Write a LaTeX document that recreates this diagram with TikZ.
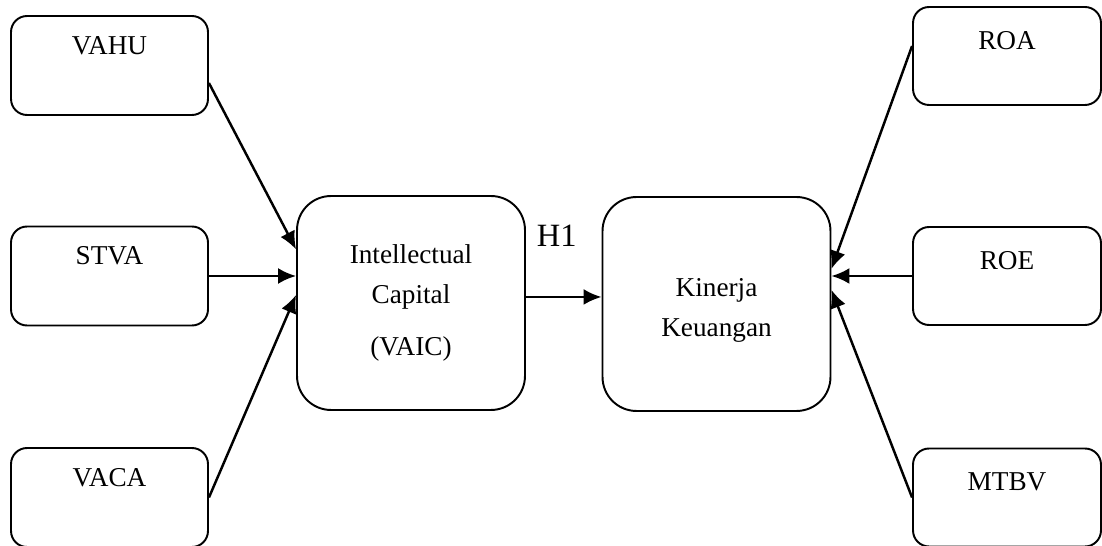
\documentclass[tikz,border=0pt]{standalone}
\usepackage{fontspec}
\setmainfont{Liberation Serif}
\usetikzlibrary{positioning,arrows.meta}

\begin{document}
\begin{tikzpicture}[x=0.02cm,y=-0.02cm]

\tikzset{%
  box/.style    = {draw,line width=1.1pt,rounded corners=0.32cm,minimum width=3.94cm,minimum height=1.98cm,inner sep=0pt},
  rbox/.style   = {box,minimum width=3.76cm,minimum height=1.96cm},
  bigbox/.style = {draw,line width=1.1pt,rounded corners=0.68cm,minimum width=4.56cm,minimum height=4.28cm,inner sep=0pt},
  txt/.style    = {inner sep=0pt,font=\fontsize{15.5}{23}\selectfont},
  link/.style   = {line width=1.4pt,-{Latex[length=0.36cm,width=0.32cm]}},
}

\useasboundingbox (0,0) rectangle (1102,546);

% Indicators of VAIC
\node[box] (vahu) at (109.5,65.5)  {};
\node[box] (stva) at (109.5,276)   {};
\node[box] (vaca) at (109.5,497.5) {};
\node[txt,below=0.42cm of vahu.north] (vahu-t) {VAHU};
\node[txt,below=0.42cm of stva.north] (stva-t) {STVA};
\node[txt,below=0.42cm of vaca.north] (vaca-t) {VACA};

% Main variables
\node[bigbox] (ic) at (411,303)   {};
\node[bigbox] (kk) at (716.5,304) {};
\node[txt,align=center,below=0.98cm of ic.north] (ic-t) {Intellectual\\Capital\\[0.22cm](VAIC)};
\node[txt,align=center,below=1.64cm of kk.north] (kk-t) {Kinerja\\Keuangan};

% Indicators of financial performance
\node[rbox] (roa)  at (1007,56)    {};
\node[rbox] (roe)  at (1007,276)   {};
\node[rbox] (mtbv) at (1007,497.5) {};
\node[txt,below=0.5cm of roa.north]  (roa-t)  {ROA};
\node[txt,below=0.5cm of roe.north]  (roe-t)  {ROE};
\node[txt,below=0.5cm of mtbv.north] (mtbv-t) {MTBV};

% Links
\draw[link] (vahu.-10)  -- (ic.155);
\draw[link] (stva.east) -- (stva.east -| ic.west);
\draw[link] (vaca.east) -- (ic.176);
\draw[link] (ic.3) -- node[inner sep=0pt,above=0.98cm,xshift=-0.14cm,font=\fontsize{18.5}{22}\selectfont] (h1) {H1} (ic.3 -| kk.west);
\draw[link] (roa.174.5) -- (kk.17.8);
\draw[link] (roe.west)  -- (roe.west -| kk.east);
\draw[link] (mtbv.west) -- (kk.7.3);

\end{tikzpicture}
\end{document}
